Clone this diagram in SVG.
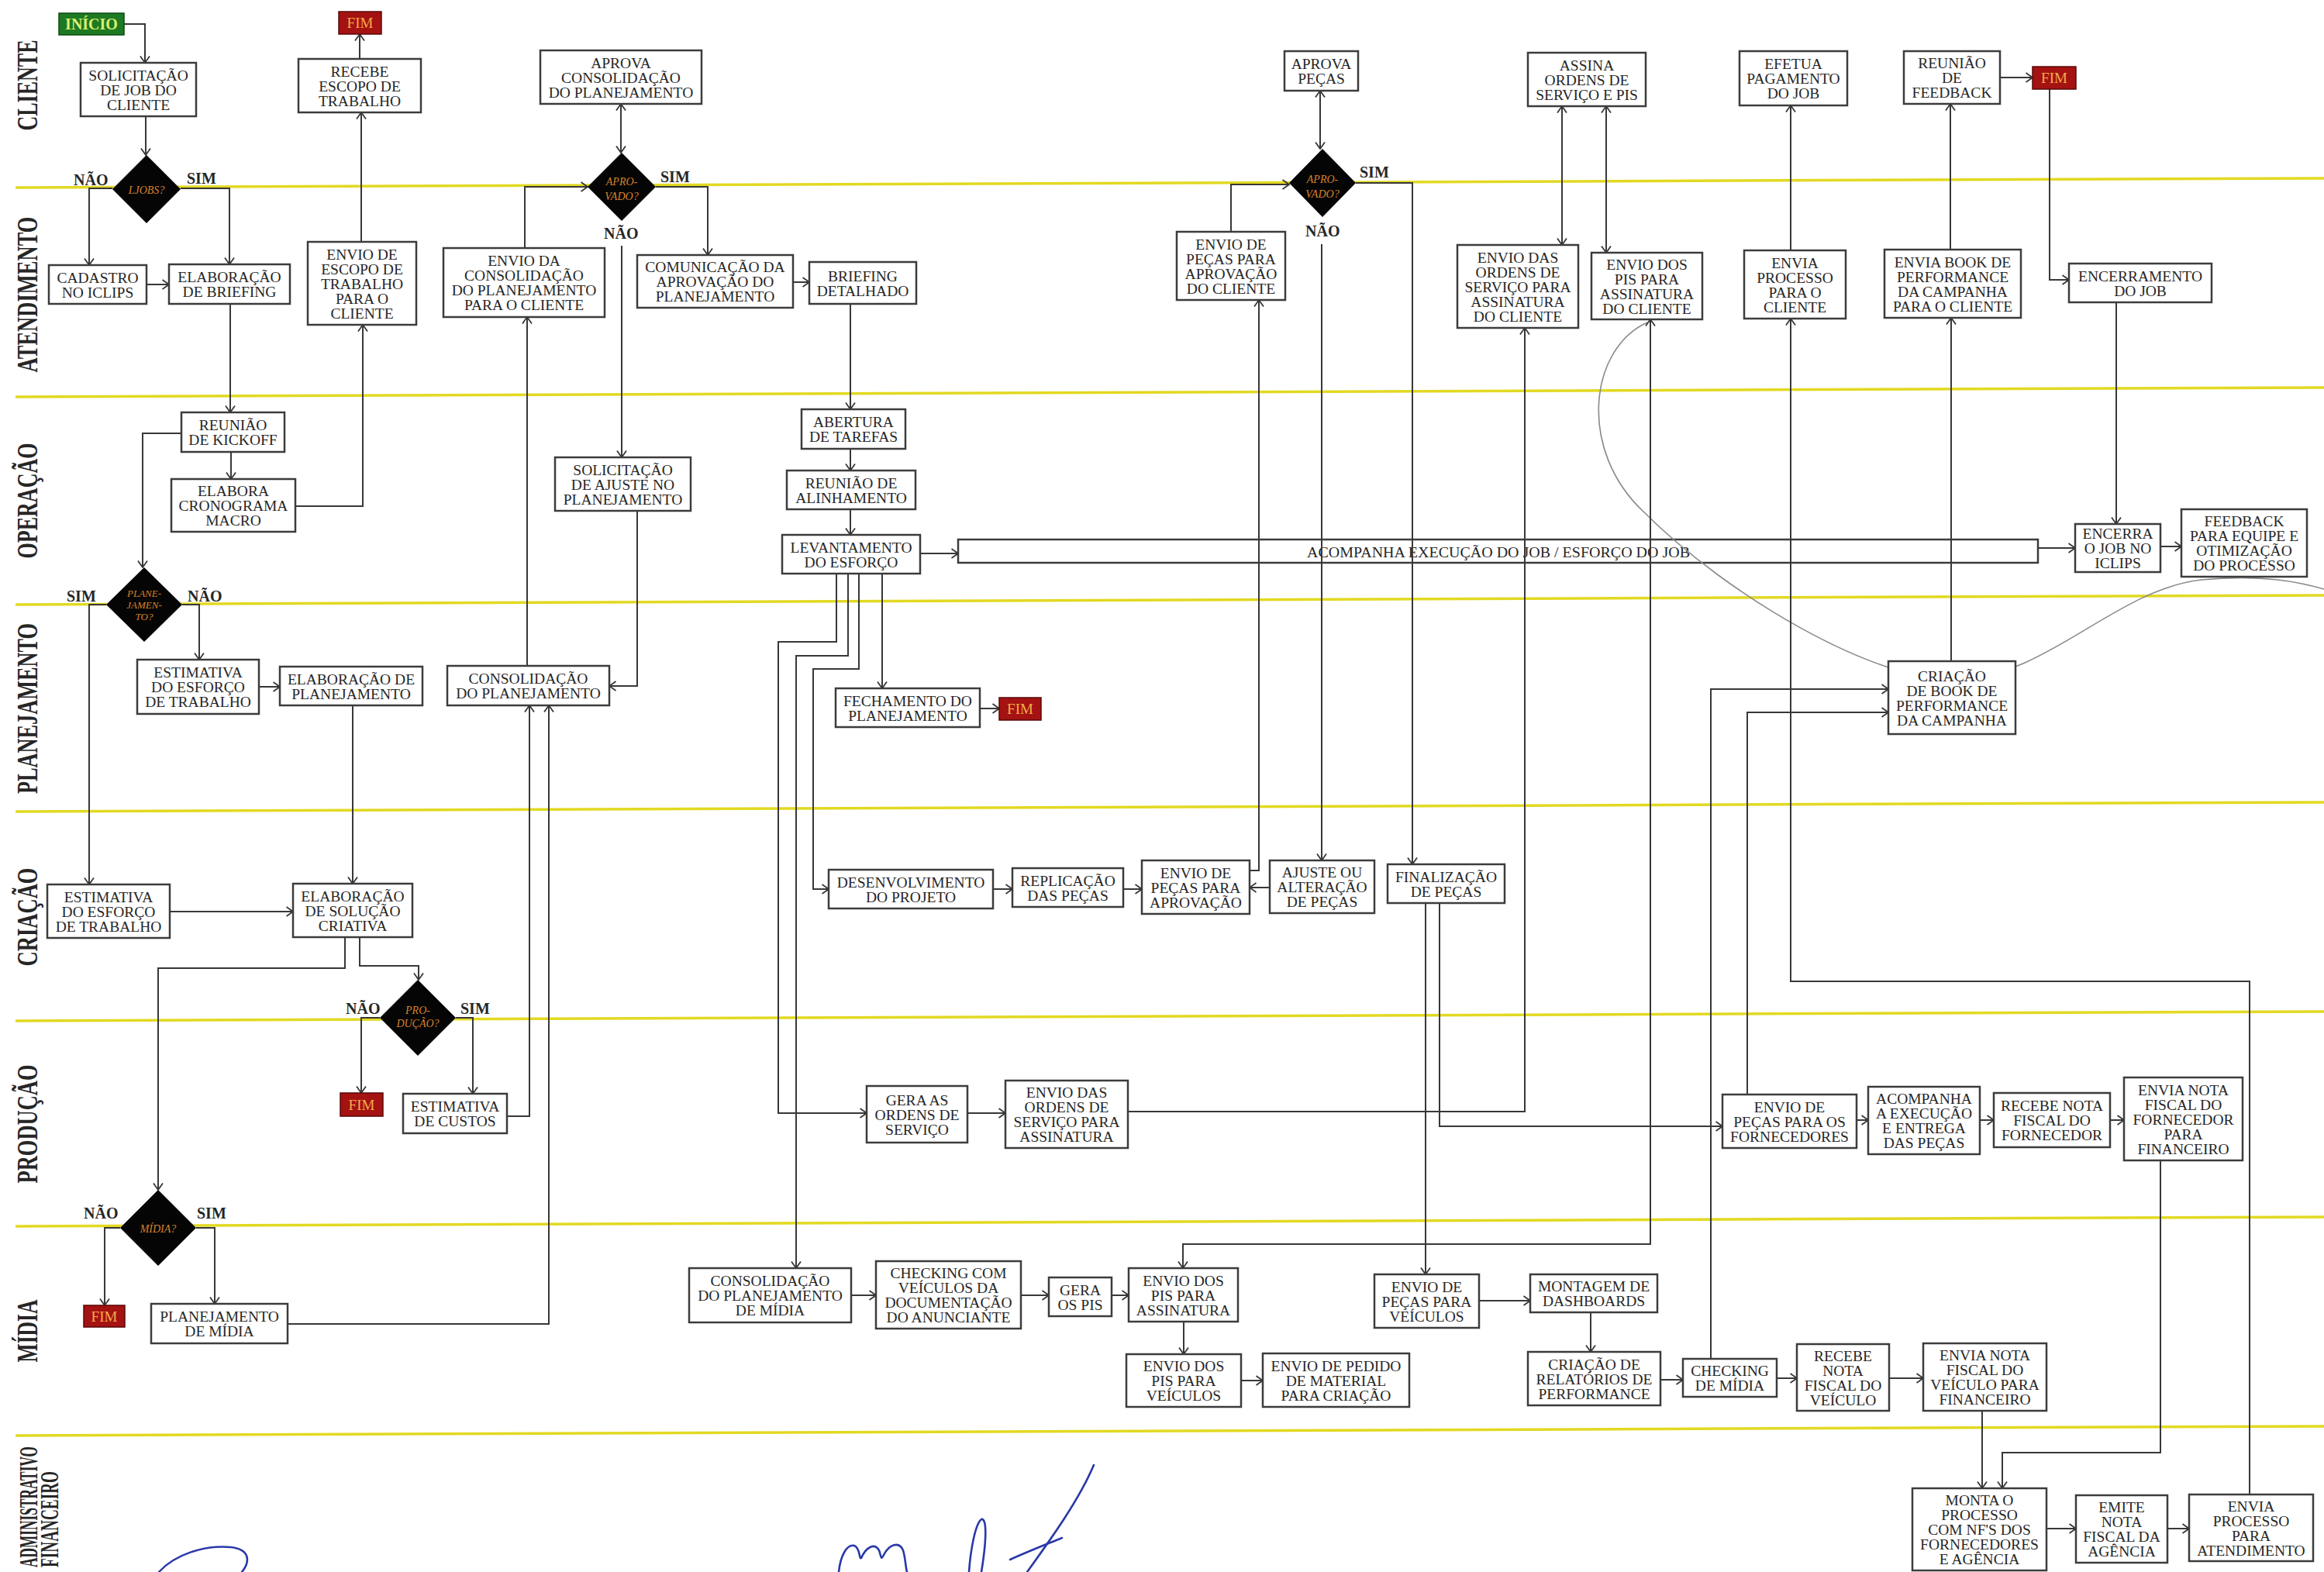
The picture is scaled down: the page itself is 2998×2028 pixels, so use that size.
<svg xmlns="http://www.w3.org/2000/svg" width="2998" height="2028" viewBox="0 0 2998 2028">
<style>
.b{fill:#fff;stroke:#3c3c3c;stroke-width:2.5}
.t{font-family:"Liberation Serif","Times New Roman",serif;font-size:19.5px;fill:#262626;text-anchor:middle}
.lane{font-family:"Liberation Serif","Times New Roman",serif;font-weight:bold;font-size:38px;fill:#262626;text-anchor:middle}
.yl{stroke:#e2d922;stroke-width:3.5}
.c{fill:none;stroke:#383838;stroke-width:2}
.dm{fill:#050505}
.dt{font-family:"Liberation Serif","Times New Roman",serif;font-style:italic;font-size:14px;fill:#d9822b;text-anchor:middle}
.yn{font-family:"Liberation Serif","Times New Roman",serif;font-weight:bold;font-size:20px;fill:#262626}
.fim{fill:#a41212;stroke:#5a0808;stroke-width:1.5}
.ft{font-family:"Liberation Serif","Times New Roman",serif;font-size:19px;fill:#f4ac48;text-anchor:middle}
.sig{fill:none;stroke:#2a38a8;stroke-width:2.6;stroke-linecap:round}
</style>
<defs>
<marker id="ah" viewBox="0 0 10 14" refX="9.5" refY="7" markerWidth="10" markerHeight="14" markerUnits="userSpaceOnUse" orient="auto-start-reverse">
<path d="M1,1 L9.5,7 L1,13" fill="none" stroke="#383838" stroke-width="1.8"/>
</marker>
</defs>
<rect x="0" y="0" width="2998" height="2028" fill="#fff"/>

<g id="lanes">
<line class="yl" x1="20" y1="242" x2="2998" y2="230"/>
<line class="yl" x1="20" y1="512" x2="2998" y2="500"/>
<line class="yl" x1="20" y1="780" x2="2998" y2="768"/>
<line class="yl" x1="20" y1="1047" x2="2998" y2="1035"/>
<line class="yl" x1="20" y1="1317" x2="2998" y2="1305"/>
<line class="yl" x1="20" y1="1582" x2="2998" y2="1570"/>
<line class="yl" x1="20" y1="1852" x2="2998" y2="1840"/>
<text class="lane" transform="translate(48,110) rotate(-90)" textLength="117" lengthAdjust="spacingAndGlyphs">CLIENTE</text>
<text class="lane" transform="translate(48,380) rotate(-90)" textLength="201" lengthAdjust="spacingAndGlyphs">ATENDIMENTO</text>
<text class="lane" transform="translate(48,646) rotate(-90)" textLength="149" lengthAdjust="spacingAndGlyphs">OPERAÇÃO</text>
<text class="lane" transform="translate(48,914) rotate(-90)" textLength="220" lengthAdjust="spacingAndGlyphs">PLANEJAMENTO</text>
<text class="lane" transform="translate(48,1183) rotate(-90)" textLength="127" lengthAdjust="spacingAndGlyphs">CRIAÇÃO</text>
<text class="lane" transform="translate(48,1450) rotate(-90)" textLength="153" lengthAdjust="spacingAndGlyphs">PRODUÇÃO</text>
<text class="lane" transform="translate(48,1717) rotate(-90)" textLength="81" lengthAdjust="spacingAndGlyphs">MÍDIA</text>
<text class="lane" style="font-size:34px" transform="translate(48,1944) rotate(-90)" textLength="156" lengthAdjust="spacingAndGlyphs">ADMINISTRATIVO</text>
<text class="lane" style="font-size:34px" transform="translate(75,1960) rotate(-90)" textLength="124" lengthAdjust="spacingAndGlyphs">FINANCEIRO</text>
</g>

<g id="n-acompanha-job">
<rect class="b" x="1236" y="696" width="1393" height="30"/>
<text class="t" x="1933" y="719" textLength="494" lengthAdjust="spacingAndGlyphs">ACOMPANHA  EXECUÇÃO DO JOB / ESFORÇO DO JOB</text>
</g>

<path id="stray-curve" d="M2125,416 C2050,450 2035,580 2120,660 C2230,770 2420,880 2524,877 C2640,874 2730,760 2840,748 C2920,740 2970,752 2998,760" fill="none" stroke="#8a8a8a" stroke-width="1.6"/>

<g id="connectors">
<path class="c" d="M160,31 H187 V81" marker-end="url(#ah)"/>
<path class="c" d="M188,150 V200" marker-end="url(#ah)"/>
<path class="c" d="M145,243 H115 V342" marker-end="url(#ah)"/>
<path class="c" d="M233,243 H296 V341" marker-end="url(#ah)"/>
<path class="c" d="M189,367 H218" marker-end="url(#ah)"/>
<path class="c" d="M297,392 V532" marker-end="url(#ah)"/>
<path class="c" d="M298,583 V618" marker-end="url(#ah)"/>
<path class="c" d="M381,653 H468 V419" marker-end="url(#ah)"/>
<path class="c" d="M466,312 V145" marker-end="url(#ah)"/>
<path class="c" d="M464,76 V44" marker-end="url(#ah)"/>
<path class="c" d="M234,559 H184 V732" marker-end="url(#ah)"/>
<path class="c" d="M137,780 H115 V1141" marker-end="url(#ah)"/>
<path class="c" d="M235,780 H257 V851" marker-end="url(#ah)"/>
<path class="c" d="M334,886 H361" marker-end="url(#ah)"/>
<path class="c" d="M455,910 V1140" marker-end="url(#ah)"/>
<path class="c" d="M219,1176 H378" marker-end="url(#ah)"/>
<path class="c" d="M445,1209 V1249 H204 V1535" marker-end="url(#ah)"/>
<path class="c" d="M464,1209 V1246 H540 V1264" marker-end="url(#ah)"/>
<path class="c" d="M490,1313 H466 V1410" marker-end="url(#ah)"/>
<path class="c" d="M588,1313 H610 V1411" marker-end="url(#ah)"/>
<path class="c" d="M654,1440 H683 V910" marker-end="url(#ah)"/>
<path class="c" d="M155,1584 H135 V1684" marker-end="url(#ah)"/>
<path class="c" d="M253,1584 H277 V1682" marker-end="url(#ah)"/>
<path class="c" d="M371,1708 H708 V910" marker-end="url(#ah)"/>
<path class="c" d="M680,859 V409" marker-end="url(#ah)"/>
<path class="c" d="M677,320 V241 H758" marker-end="url(#ah)"/>
<path class="c" d="M801,134 V197" marker-start="url(#ah)" marker-end="url(#ah)"/>
<path class="c" d="M846,241 H913 V329" marker-end="url(#ah)"/>
<path class="c" d="M802,317 V590" marker-end="url(#ah)"/>
<path class="c" d="M822,659 V885 H786" marker-end="url(#ah)"/>
<path class="c" d="M1023,364 H1044" marker-end="url(#ah)"/>
<path class="c" d="M1097,392 V528" marker-end="url(#ah)"/>
<path class="c" d="M1097,579 V607" marker-end="url(#ah)"/>
<path class="c" d="M1097,657 V690" marker-end="url(#ah)"/>
<path class="c" d="M1187,714 H1236" marker-end="url(#ah)"/>
<path class="c" d="M1138,740 V888" marker-end="url(#ah)"/>
<path class="c" d="M1264,914 H1289" marker-end="url(#ah)"/>
<path class="c" d="M1108,740 V863 H1049 V1147 H1069" marker-end="url(#ah)"/>
<path class="c" d="M1094,740 V846 H1027 V1636" marker-end="url(#ah)"/>
<path class="c" d="M1079,740 V828 H1004 V1436 H1118" marker-end="url(#ah)"/>
<path class="c" d="M1281,1147 H1306" marker-end="url(#ah)"/>
<path class="c" d="M1449,1147 H1473" marker-end="url(#ah)"/>
<path class="c" d="M1612,1123 H1624 V387" marker-end="url(#ah)"/>
<path class="c" d="M1638,1145 H1612" marker-end="url(#ah)"/>
<path class="c" d="M1588,299 V238 H1663" marker-end="url(#ah)"/>
<path class="c" d="M1703,117 V192" marker-start="url(#ah)" marker-end="url(#ah)"/>
<path class="c" d="M1705,315 V1110" marker-end="url(#ah)"/>
<path class="c" d="M1749,236 H1822 V1115" marker-end="url(#ah)"/>
<path class="c" d="M1839,1165 V1644" marker-end="url(#ah)"/>
<path class="c" d="M1857,1165 V1453 H2222" marker-end="url(#ah)"/>
<path class="c" d="M1248,1436 H1297" marker-end="url(#ah)"/>
<path class="c" d="M1455,1434 H1967 V423" marker-end="url(#ah)"/>
<path class="c" d="M2015,137 V316" marker-start="url(#ah)" marker-end="url(#ah)"/>
<path class="c" d="M2072,137 V326" marker-start="url(#ah)" marker-end="url(#ah)"/>
<path class="c" d="M2129,412 V1605 H1526 V1636" marker-start="url(#ah)" marker-end="url(#ah)"/>
<path class="c" d="M1098,1671 H1130" marker-end="url(#ah)"/>
<path class="c" d="M1317,1671 H1353" marker-end="url(#ah)"/>
<path class="c" d="M1434,1671 H1456" marker-end="url(#ah)"/>
<path class="c" d="M1527,1705 V1747" marker-end="url(#ah)"/>
<path class="c" d="M1601,1781 H1629" marker-end="url(#ah)"/>
<path class="c" d="M1908,1678 H1974" marker-end="url(#ah)"/>
<path class="c" d="M2052,1693 V1744" marker-end="url(#ah)"/>
<path class="c" d="M2142,1780 H2171" marker-end="url(#ah)"/>
<path class="c" d="M2207,1753 V889 H2436" marker-end="url(#ah)"/>
<path class="c" d="M2254,1412 V919 H2436" marker-end="url(#ah)"/>
<path class="c" d="M2517,853 V410" marker-end="url(#ah)"/>
<path class="c" d="M2516,322 V134" marker-end="url(#ah)"/>
<path class="c" d="M2580,100 H2622" marker-end="url(#ah)"/>
<path class="c" d="M2644,115 V361 H2669" marker-end="url(#ah)"/>
<path class="c" d="M2730,390 V676" marker-end="url(#ah)"/>
<path class="c" d="M2629,707 H2677" marker-end="url(#ah)"/>
<path class="c" d="M2787,705 H2814" marker-end="url(#ah)"/>
<path class="c" d="M2310,323 V136" marker-end="url(#ah)"/>
<path class="c" d="M2902,1928 V1266 H2310 V411" marker-end="url(#ah)"/>
<path class="c" d="M2395,1445 H2410" marker-end="url(#ah)"/>
<path class="c" d="M2554,1445 H2572" marker-end="url(#ah)"/>
<path class="c" d="M2722,1445 H2740" marker-end="url(#ah)"/>
<path class="c" d="M2787,1497 V1874 H2583 V1920" marker-end="url(#ah)"/>
<path class="c" d="M2292,1778 H2318" marker-end="url(#ah)"/>
<path class="c" d="M2437,1778 H2481" marker-end="url(#ah)"/>
<path class="c" d="M2557,1820 V1920" marker-end="url(#ah)"/>
<path class="c" d="M2640,1972 H2678" marker-end="url(#ah)"/>
<path class="c" d="M2796,1972 H2824" marker-end="url(#ah)"/>
</g>

<g id="n-inicio"><rect x="76" y="17" width="84" height="28" fill="#1d7a22" stroke="#0d4a10" stroke-width="1.5"/><text x="118" y="38" style="font-family:'Liberation Serif',serif;font-weight:bold;font-size:20px;fill:#dcef72;text-anchor:middle">INÍCIO</text></g>
<g id="n-fim1"><rect class="fim" x="437" y="15" width="55" height="29"/><text class="ft" x="464.5" y="36">FIM</text></g>
<g id="n-fim2"><rect class="fim" x="1289" y="900" width="54" height="29"/><text class="ft" x="1316" y="921">FIM</text></g>
<g id="n-fim3"><rect class="fim" x="439" y="1410" width="55" height="30"/><text class="ft" x="466.5" y="1432">FIM</text></g>
<g id="n-fim4"><rect class="fim" x="108" y="1684" width="53" height="28"/><text class="ft" x="134.5" y="1705">FIM</text></g>
<g id="n-fim5"><rect class="fim" x="2622" y="86" width="56" height="29"/><text class="ft" x="2650" y="107">FIM</text></g>

<g id="d-jobs"><polygon class="dm" points="189,200 233,244 189,288 145,244"/><text class="dt" x="189" y="250">LJOBS?</text>
<text class="yn" x="95" y="239">NÃO</text><text class="yn" x="241" y="237">SIM</text></g>
<g id="d-aprovado1"><polygon class="dm" points="802,197 846,241 802,285 758,241"/><text class="dt" x="802" y="239">APRO-</text><text class="dt" x="802" y="258">VADO?</text>
<text class="yn" x="852" y="235">SIM</text><text class="yn" x="779" y="308">NÃO</text></g>
<g id="d-planejamento"><polygon class="dm" points="186,732 235,780 186,828 137,780"/><text class="dt" style="font-size:13px" x="186" y="770">PLANE-</text><text class="dt" style="font-size:13px" x="186" y="785">JAMEN-</text><text class="dt" style="font-size:13px" x="186" y="800">TO?</text>
<text class="yn" x="86" y="776">SIM</text><text class="yn" x="242" y="776">NÃO</text></g>
<g id="d-producao"><polygon class="dm" points="539,1264 588,1313 539,1362 490,1313"/><text class="dt" x="539" y="1308">PRO-</text><text class="dt" x="539" y="1325">DUÇÃO?</text>
<text class="yn" x="446" y="1308">NÃO</text><text class="yn" x="594" y="1308">SIM</text></g>
<g id="d-midia"><polygon class="dm" points="204,1535 253,1584 204,1633 155,1584"/><text class="dt" x="204" y="1590">MÍDIA?</text>
<text class="yn" x="108" y="1572">NÃO</text><text class="yn" x="254" y="1572">SIM</text></g>
<g id="d-aprovado2"><polygon class="dm" points="1706,192 1749,236 1706,280 1663,236"/><text class="dt" x="1706" y="236">APRO-</text><text class="dt" x="1706" y="255">VADO?</text>
<text class="yn" x="1754" y="229">SIM</text><text class="yn" x="1684" y="305">NÃO</text></g>

<g id="n-solicitacao"><rect class="b" x="104" y="81" width="149" height="69"/><text class="t" x="178.5" y="115.5"><tspan x="178.5" dy="-12">SOLICITAÇÃO</tspan><tspan x="178.5" dy="19">DE JOB DO</tspan><tspan x="178.5" dy="19">CLIENTE</tspan></text></g>
<g id="n-cadastro"><rect class="b" x="63" y="342" width="126" height="50"/><text class="t" x="126" y="367"><tspan x="126" dy="-2.5">CADASTRO</tspan><tspan x="126" dy="19">NO ICLIPS</tspan></text></g>
<g id="n-elab-briefing"><rect class="b" x="218" y="341" width="156" height="51"/><text class="t" x="296" y="366.5"><tspan x="296" dy="-2.5">ELABORAÇÃO</tspan><tspan x="296" dy="19">DE BRIEFING</tspan></text></g>
<g id="n-recebe-escopo"><rect class="b" x="385" y="76" width="158" height="69"/><text class="t" x="464" y="110.5"><tspan x="464" dy="-12">RECEBE</tspan><tspan x="464" dy="19">ESCOPO DE</tspan><tspan x="464" dy="19">TRABALHO</tspan></text></g>
<g id="n-envio-escopo"><rect class="b" x="397" y="312" width="140" height="107"/><text class="t" x="467" y="365.5"><tspan x="467" dy="-31">ENVIO DE</tspan><tspan x="467" dy="19">ESCOPO DE</tspan><tspan x="467" dy="19">TRABALHO</tspan><tspan x="467" dy="19">PARA O</tspan><tspan x="467" dy="19">CLIENTE</tspan></text></g>
<g id="n-reuniao-kickoff"><rect class="b" x="234" y="532" width="133" height="51"/><text class="t" x="300.5" y="557.5"><tspan x="300.5" dy="-2.5">REUNIÃO</tspan><tspan x="300.5" dy="19">DE KICKOFF</tspan></text></g>
<g id="n-cronograma"><rect class="b" x="221" y="618" width="160" height="68"/><text class="t" x="301" y="652"><tspan x="301" dy="-12">ELABORA</tspan><tspan x="301" dy="19">CRONOGRAMA</tspan><tspan x="301" dy="19">MACRO</tspan></text></g>
<g id="n-estimativa-plan"><rect class="b" x="177" y="851" width="157" height="70"/><text class="t" x="255.5" y="886"><tspan x="255.5" dy="-12">ESTIMATIVA</tspan><tspan x="255.5" dy="19">DO ESFORÇO</tspan><tspan x="255.5" dy="19">DE TRABALHO</tspan></text></g>
<g id="n-elab-plan"><rect class="b" x="361" y="860" width="184" height="50"/><text class="t" x="453" y="885"><tspan x="453" dy="-2.5">ELABORAÇÃO DE</tspan><tspan x="453" dy="19">PLANEJAMENTO</tspan></text></g>
<g id="n-elab-solucao"><rect class="b" x="378" y="1140" width="154" height="69"/><text class="t" x="455" y="1174.5"><tspan x="455" dy="-12">ELABORAÇÃO</tspan><tspan x="455" dy="19">DE SOLUÇÃO</tspan><tspan x="455" dy="19">CRIATIVA</tspan></text></g>
<g id="n-estimativa-criacao"><rect class="b" x="61" y="1141" width="158" height="69"/><text class="t" x="140" y="1175.5"><tspan x="140" dy="-12">ESTIMATIVA</tspan><tspan x="140" dy="19">DO ESFORÇO</tspan><tspan x="140" dy="19">DE TRABALHO</tspan></text></g>
<g id="n-estimativa-custos"><rect class="b" x="520" y="1411" width="134" height="51"/><text class="t" x="587" y="1436.5"><tspan x="587" dy="-2.5">ESTIMATIVA</tspan><tspan x="587" dy="19">DE CUSTOS</tspan></text></g>
<g id="n-plan-midia"><rect class="b" x="195" y="1682" width="176" height="51"/><text class="t" x="283" y="1707.5"><tspan x="283" dy="-2.5">PLANEJAMENTO</tspan><tspan x="283" dy="19">DE MÍDIA</tspan></text></g>
<g id="n-aprova-consol"><rect class="b" x="697" y="65" width="208" height="69"/><text class="t" x="801" y="99.5"><tspan x="801" dy="-12">APROVA</tspan><tspan x="801" dy="19">CONSOLIDAÇÃO</tspan><tspan x="801" dy="19">DO PLANEJAMENTO</tspan></text></g>
<g id="n-envio-consol"><rect class="b" x="572" y="320" width="208" height="89"/><text class="t" x="676" y="364.5"><tspan x="676" dy="-21.5">ENVIO DA</tspan><tspan x="676" dy="19">CONSOLIDAÇÃO</tspan><tspan x="676" dy="19">DO PLANEJAMENTO</tspan><tspan x="676" dy="19">PARA O CLIENTE</tspan></text></g>
<g id="n-solic-ajuste"><rect class="b" x="716" y="590" width="175" height="69"/><text class="t" x="803.5" y="624.5"><tspan x="803.5" dy="-12">SOLICITAÇÃO</tspan><tspan x="803.5" dy="19">DE AJUSTE NO</tspan><tspan x="803.5" dy="19">PLANEJAMENTO</tspan></text></g>
<g id="n-consolidacao"><rect class="b" x="577" y="859" width="209" height="51"/><text class="t" x="681.5" y="884.5"><tspan x="681.5" dy="-2.5">CONSOLIDAÇÃO</tspan><tspan x="681.5" dy="19">DO PLANEJAMENTO</tspan></text></g>
<g id="n-comunicacao"><rect class="b" x="822" y="329" width="201" height="68"/><text class="t" x="922.5" y="363"><tspan x="922.5" dy="-12">COMUNICAÇÃO DA</tspan><tspan x="922.5" dy="19">APROVAÇÃO DO</tspan><tspan x="922.5" dy="19">PLANEJAMENTO</tspan></text></g>
<g id="n-briefing-det"><rect class="b" x="1044" y="338" width="138" height="54"/><text class="t" x="1113" y="365"><tspan x="1113" dy="-2.5">BRIEFING</tspan><tspan x="1113" dy="19">DETALHADO</tspan></text></g>
<g id="n-abertura"><rect class="b" x="1034" y="528" width="134" height="51"/><text class="t" x="1101" y="553.5"><tspan x="1101" dy="-2.5">ABERTURA</tspan><tspan x="1101" dy="19">DE TAREFAS</tspan></text></g>
<g id="n-reuniao-alinh"><rect class="b" x="1015" y="607" width="166" height="50"/><text class="t" x="1098" y="632"><tspan x="1098" dy="-2.5">REUNIÃO DE</tspan><tspan x="1098" dy="19">ALINHAMENTO</tspan></text></g>
<g id="n-levantamento"><rect class="b" x="1009" y="690" width="178" height="50"/><text class="t" x="1098" y="715"><tspan x="1098" dy="-2.5">LEVANTAMENTO</tspan><tspan x="1098" dy="19">DO ESFORÇO</tspan></text></g>
<g id="n-fechamento"><rect class="b" x="1078" y="888" width="186" height="50"/><text class="t" x="1171" y="913"><tspan x="1171" dy="-2.5">FECHAMENTO DO</tspan><tspan x="1171" dy="19">PLANEJAMENTO</tspan></text></g>
<g id="n-desenvolvimento"><rect class="b" x="1069" y="1122" width="212" height="50"/><text class="t" x="1175" y="1147"><tspan x="1175" dy="-2.5">DESENVOLVIMENTO</tspan><tspan x="1175" dy="19">DO PROJETO</tspan></text></g>
<g id="n-replicacao"><rect class="b" x="1306" y="1120" width="143" height="50"/><text class="t" x="1377.5" y="1145"><tspan x="1377.5" dy="-2.5">REPLICAÇÃO</tspan><tspan x="1377.5" dy="19">DAS PEÇAS</tspan></text></g>
<g id="n-envio-pecas-aprov"><rect class="b" x="1473" y="1110" width="139" height="69"/><text class="t" x="1542.5" y="1144.5"><tspan x="1542.5" dy="-12">ENVIO DE</tspan><tspan x="1542.5" dy="19">PEÇAS PARA</tspan><tspan x="1542.5" dy="19">APROVAÇÃO</tspan></text></g>
<g id="n-ajuste"><rect class="b" x="1638" y="1110" width="135" height="68"/><text class="t" x="1705.5" y="1144"><tspan x="1705.5" dy="-12">AJUSTE OU</tspan><tspan x="1705.5" dy="19">ALTERAÇÃO</tspan><tspan x="1705.5" dy="19">DE PEÇAS</tspan></text></g>
<g id="n-finalizacao"><rect class="b" x="1790" y="1115" width="151" height="50"/><text class="t" x="1865.5" y="1140"><tspan x="1865.5" dy="-2.5">FINALIZAÇÃO</tspan><tspan x="1865.5" dy="19">DE PEÇAS</tspan></text></g>
<g id="n-aprova-pecas"><rect class="b" x="1657" y="66" width="95" height="51"/><text class="t" x="1704.5" y="91.5"><tspan x="1704.5" dy="-2.5">APROVA</tspan><tspan x="1704.5" dy="19">PEÇAS</tspan></text></g>
<g id="n-envio-pecas-cliente"><rect class="b" x="1518" y="299" width="140" height="88"/><text class="t" x="1588" y="343"><tspan x="1588" dy="-21.5">ENVIO DE</tspan><tspan x="1588" dy="19">PEÇAS PARA</tspan><tspan x="1588" dy="19">APROVAÇÃO</tspan><tspan x="1588" dy="19">DO CLIENTE</tspan></text></g>
<g id="n-assina"><rect class="b" x="1971" y="68" width="152" height="69"/><text class="t" x="2047" y="102.5"><tspan x="2047" dy="-12">ASSINA</tspan><tspan x="2047" dy="19">ORDENS DE</tspan><tspan x="2047" dy="19">SERVIÇO E PIS</tspan></text></g>
<g id="n-envio-ordens-cliente"><rect class="b" x="1880" y="316" width="156" height="107"/><text class="t" x="1958" y="369.5"><tspan x="1958" dy="-31">ENVIO DAS</tspan><tspan x="1958" dy="19">ORDENS DE</tspan><tspan x="1958" dy="19">SERVIÇO PARA</tspan><tspan x="1958" dy="19">ASSINATURA</tspan><tspan x="1958" dy="19">DO CLIENTE</tspan></text></g>
<g id="n-envio-pis-cliente"><rect class="b" x="2053" y="326" width="143" height="86"/><text class="t" x="2124.5" y="369"><tspan x="2124.5" dy="-21.5">ENVIO DOS</tspan><tspan x="2124.5" dy="19">PIS PARA</tspan><tspan x="2124.5" dy="19">ASSINATURA</tspan><tspan x="2124.5" dy="19">DO CLIENTE</tspan></text></g>
<g id="n-efetua"><rect class="b" x="2244" y="66" width="139" height="70"/><text class="t" x="2313.5" y="101"><tspan x="2313.5" dy="-12">EFETUA</tspan><tspan x="2313.5" dy="19">PAGAMENTO</tspan><tspan x="2313.5" dy="19">DO JOB</tspan></text></g>
<g id="n-envia-processo-cliente"><rect class="b" x="2250" y="323" width="131" height="88"/><text class="t" x="2315.5" y="367"><tspan x="2315.5" dy="-21.5">ENVIA</tspan><tspan x="2315.5" dy="19">PROCESSO</tspan><tspan x="2315.5" dy="19">PARA O</tspan><tspan x="2315.5" dy="19">CLIENTE</tspan></text></g>
<g id="n-reuniao-feedback"><rect class="b" x="2456" y="66" width="124" height="68"/><text class="t" x="2518" y="100"><tspan x="2518" dy="-12">REUNIÃO</tspan><tspan x="2518" dy="19">DE</tspan><tspan x="2518" dy="19">FEEDBACK</tspan></text></g>
<g id="n-envia-book"><rect class="b" x="2431" y="322" width="176" height="88"/><text class="t" x="2519" y="366"><tspan x="2519" dy="-21.5">ENVIA BOOK  DE</tspan><tspan x="2519" dy="19">PERFORMANCE</tspan><tspan x="2519" dy="19">DA CAMPANHA</tspan><tspan x="2519" dy="19">PARA O CLIENTE</tspan></text></g>
<g id="n-encerramento"><rect class="b" x="2669" y="340" width="184" height="50"/><text class="t" x="2761" y="365"><tspan x="2761" dy="-2.5">ENCERRAMENTO</tspan><tspan x="2761" dy="19">DO JOB</tspan></text></g>
<g id="n-encerra-iclips"><rect class="b" x="2677" y="676" width="110" height="62"/><text class="t" x="2732" y="707"><tspan x="2732" dy="-12">ENCERRA</tspan><tspan x="2732" dy="19">O JOB NO</tspan><tspan x="2732" dy="19">ICLIPS</tspan></text></g>
<g id="n-feedback-equipe"><rect class="b" x="2814" y="657" width="162" height="87"/><text class="t" x="2895" y="700.5"><tspan x="2895" dy="-21.5">FEEDBACK</tspan><tspan x="2895" dy="19">PARA EQUIPE E</tspan><tspan x="2895" dy="19">OTIMIZAÇÃO</tspan><tspan x="2895" dy="19">DO PROCESSO</tspan></text></g>
<g id="n-criacao-book"><rect class="b" x="2436" y="853" width="164" height="94"/><text class="t" x="2518" y="900"><tspan x="2518" dy="-21.5">CRIAÇÃO</tspan><tspan x="2518" dy="19">DE BOOK DE</tspan><tspan x="2518" dy="19">PERFORMANCE</tspan><tspan x="2518" dy="19">DA CAMPANHA</tspan></text></g>
<g id="n-gera-ordens"><rect class="b" x="1118" y="1401" width="130" height="73"/><text class="t" x="1183" y="1437.5"><tspan x="1183" dy="-12">GERA AS</tspan><tspan x="1183" dy="19">ORDENS DE</tspan><tspan x="1183" dy="19">SERVIÇO</tspan></text></g>
<g id="n-envio-ordens-prod"><rect class="b" x="1297" y="1394" width="158" height="87"/><text class="t" x="1376" y="1437.5"><tspan x="1376" dy="-21.5">ENVIO DAS</tspan><tspan x="1376" dy="19">ORDENS DE</tspan><tspan x="1376" dy="19">SERVIÇO PARA</tspan><tspan x="1376" dy="19">ASSINATURA</tspan></text></g>
<g id="n-consol-midia"><rect class="b" x="889" y="1636" width="209" height="70"/><text class="t" x="993.5" y="1671"><tspan x="993.5" dy="-12">CONSOLIDAÇÃO</tspan><tspan x="993.5" dy="19">DO PLANEJAMENTO</tspan><tspan x="993.5" dy="19">DE MÍDIA</tspan></text></g>
<g id="n-checking-com"><rect class="b" x="1130" y="1627" width="187" height="87"/><text class="t" x="1223.5" y="1670.5"><tspan x="1223.5" dy="-21.5">CHECKING COM</tspan><tspan x="1223.5" dy="19">VEÍCULOS DA</tspan><tspan x="1223.5" dy="19">DOCUMENTAÇÃO</tspan><tspan x="1223.5" dy="19">DO ANUNCIANTE</tspan></text></g>
<g id="n-gera-pis"><rect class="b" x="1353" y="1648" width="81" height="50"/><text class="t" x="1393.5" y="1673"><tspan x="1393.5" dy="-2.5">GERA</tspan><tspan x="1393.5" dy="19">OS PIS</tspan></text></g>
<g id="n-envio-pis-assin"><rect class="b" x="1456" y="1636" width="141" height="69"/><text class="t" x="1526.5" y="1670.5"><tspan x="1526.5" dy="-12">ENVIO DOS</tspan><tspan x="1526.5" dy="19">PIS PARA</tspan><tspan x="1526.5" dy="19">ASSINATURA</tspan></text></g>
<g id="n-envio-pis-veic"><rect class="b" x="1453" y="1747" width="148" height="68"/><text class="t" x="1527" y="1781"><tspan x="1527" dy="-12">ENVIO DOS</tspan><tspan x="1527" dy="19">PIS PARA</tspan><tspan x="1527" dy="19">VEÍCULOS</tspan></text></g>
<g id="n-envio-pedido"><rect class="b" x="1629" y="1746" width="189" height="69"/><text class="t" x="1723.5" y="1780.5"><tspan x="1723.5" dy="-12">ENVIO DE PEDIDO</tspan><tspan x="1723.5" dy="19">DE MATERIAL</tspan><tspan x="1723.5" dy="19">PARA CRIAÇÃO</tspan></text></g>
<g id="n-envio-pecas-veic"><rect class="b" x="1773" y="1644" width="135" height="69"/><text class="t" x="1840.5" y="1678.5"><tspan x="1840.5" dy="-12">ENVIO DE</tspan><tspan x="1840.5" dy="19">PEÇAS PARA</tspan><tspan x="1840.5" dy="19">VEÍCULOS</tspan></text></g>
<g id="n-montagem"><rect class="b" x="1974" y="1644" width="164" height="49"/><text class="t" x="2056" y="1668.5"><tspan x="2056" dy="-2.5">MONTAGEM DE</tspan><tspan x="2056" dy="19">DASHBOARDS</tspan></text></g>
<g id="n-criacao-relatorios"><rect class="b" x="1971" y="1744" width="171" height="69"/><text class="t" x="2056.5" y="1778.5"><tspan x="2056.5" dy="-12">CRIAÇÃO DE</tspan><tspan x="2056.5" dy="19">RELATÓRIOS DE</tspan><tspan x="2056.5" dy="19">PERFORMANCE</tspan></text></g>
<g id="n-checking-midia"><rect class="b" x="2171" y="1753" width="121" height="49"/><text class="t" x="2231.5" y="1777.5"><tspan x="2231.5" dy="-2.5">CHECKING</tspan><tspan x="2231.5" dy="19">DE MÍDIA</tspan></text></g>
<g id="n-recebe-nota-veic"><rect class="b" x="2318" y="1734" width="119" height="86"/><text class="t" x="2377.5" y="1777"><tspan x="2377.5" dy="-21.5">RECEBE</tspan><tspan x="2377.5" dy="19">NOTA</tspan><tspan x="2377.5" dy="19">FISCAL DO</tspan><tspan x="2377.5" dy="19">VEÍCULO</tspan></text></g>
<g id="n-envia-nota-veic"><rect class="b" x="2481" y="1733" width="159" height="87"/><text class="t" x="2560.5" y="1776.5"><tspan x="2560.5" dy="-21.5">ENVIA NOTA</tspan><tspan x="2560.5" dy="19">FISCAL DO</tspan><tspan x="2560.5" dy="19">VEÍCULO PARA</tspan><tspan x="2560.5" dy="19">FINANCEIRO</tspan></text></g>
<g id="n-envio-pecas-forn"><rect class="b" x="2222" y="1412" width="173" height="69"/><text class="t" x="2308.5" y="1446.5"><tspan x="2308.5" dy="-12">ENVIO DE</tspan><tspan x="2308.5" dy="19">PEÇAS PARA OS</tspan><tspan x="2308.5" dy="19">FORNECEDORES</tspan></text></g>
<g id="n-acompanha-exec"><rect class="b" x="2410" y="1402" width="144" height="87"/><text class="t" x="2482" y="1445.5"><tspan x="2482" dy="-21.5">ACOMPANHA</tspan><tspan x="2482" dy="19">A EXECUÇÃO</tspan><tspan x="2482" dy="19">E ENTREGA</tspan><tspan x="2482" dy="19">DAS PEÇAS</tspan></text></g>
<g id="n-recebe-nota-forn"><rect class="b" x="2572" y="1410" width="150" height="70"/><text class="t" x="2647" y="1445"><tspan x="2647" dy="-12">RECEBE NOTA</tspan><tspan x="2647" dy="19">FISCAL DO</tspan><tspan x="2647" dy="19">FORNECEDOR</tspan></text></g>
<g id="n-envia-nota-forn"><rect class="b" x="2740" y="1390" width="153" height="107"/><text class="t" x="2816.5" y="1443.5"><tspan x="2816.5" dy="-31">ENVIA NOTA</tspan><tspan x="2816.5" dy="19">FISCAL DO</tspan><tspan x="2816.5" dy="19">FORNECEDOR</tspan><tspan x="2816.5" dy="19">PARA</tspan><tspan x="2816.5" dy="19">FINANCEIRO</tspan></text></g>
<g id="n-monta"><rect class="b" x="2467" y="1920" width="173" height="106"/><text class="t" x="2553.5" y="1973"><tspan x="2553.5" dy="-31">MONTA O</tspan><tspan x="2553.5" dy="19">PROCESSO</tspan><tspan x="2553.5" dy="19">COM NF'S DOS</tspan><tspan x="2553.5" dy="19">FORNECEDORES</tspan><tspan x="2553.5" dy="19">E AGÊNCIA</tspan></text></g>
<g id="n-emite"><rect class="b" x="2678" y="1929" width="118" height="87"/><text class="t" x="2737" y="1972.5"><tspan x="2737" dy="-21.5">EMITE</tspan><tspan x="2737" dy="19">NOTA</tspan><tspan x="2737" dy="19">FISCAL DA</tspan><tspan x="2737" dy="19">AGÊNCIA</tspan></text></g>
<g id="n-envia-proc-atend"><rect class="b" x="2824" y="1928" width="160" height="86"/><text class="t" x="2904" y="1971"><tspan x="2904" dy="-21.5">ENVIA</tspan><tspan x="2904" dy="19">PROCESSO</tspan><tspan x="2904" dy="19">PARA</tspan><tspan x="2904" dy="19">ATENDIMENTO</tspan></text></g>

<g id="handwriting">
<path class="sig" d="M205,2028 C225,2006 262,1993 298,1996 C324,1999 322,2016 312,2028"/>
<path class="sig" d="M1082,2028 C1084,2008 1092,1992 1102,1994 C1110,1997 1108,2012 1111,2010 C1117,1996 1128,1990 1134,2000 C1137,2008 1136,2014 1140,2006 C1147,1992 1160,1988 1165,2000 C1168,2010 1168,2020 1170,2028"/>
<path class="sig" d="M1250,2028 C1252,2000 1258,1966 1266,1960 C1274,1958 1272,1992 1266,2028"/>
<path class="sig" d="M1411,1890 C1392,1935 1356,1985 1325,2028"/>
<path class="sig" d="M1303,2012 C1325,2002 1348,1993 1370,1984"/>
</g>
</svg>
